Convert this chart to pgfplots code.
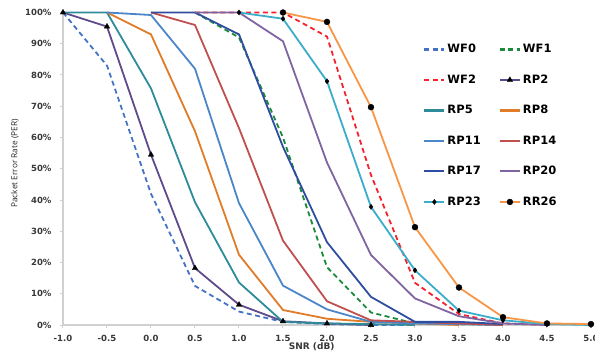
\documentclass[border=0pt]{standalone}
\usepackage{pgfplots}
\pgfplotsset{compat=1.18}
\usepackage{fontspec}
\setmainfont{DejaVu Sans}
\newfontfamily\ylabfont{Open Sans}
\definecolor{cWFa}{HTML}{4472C4}
\definecolor{cWFb}{HTML}{1B8A3A}
\definecolor{cWFc}{HTML}{F5222D}
\definecolor{cRPa}{HTML}{5F4B8B}
\definecolor{cRPb}{HTML}{2E8B9A}
\definecolor{cRPc}{HTML}{E07B28}
\definecolor{cRPd}{HTML}{4A86C8}
\definecolor{cRPe}{HTML}{C0504D}
\definecolor{cRPf}{HTML}{2F4DA0}
\definecolor{cRPg}{HTML}{8064A2}
\definecolor{cRPh}{HTML}{3AADCB}
\definecolor{cRRi}{HTML}{F79646}
\definecolor{axgray}{HTML}{D0D0D0}
\begin{document}
\begin{tikzpicture}
\begin{axis}[
  scale only axis,
  width=528pt, height=312.5pt,
  xmin=-1, xmax=5, ymin=0, ymax=100,
  axis x line=bottom, axis y line=left,
  axis line style={draw=axgray, line width=1.3pt, -},
  xtick={-1,-0.5,0,0.5,1,1.5,2,2.5,3,3.5,4,4.5,5},
  xticklabels={-1.0,-0.5,0.0,0.5,1.0,1.5,2.0,2.5,3.0,3.5,4.0,4.5,5.0},
  ytick={0,10,20,30,40,50,60,70,80,90,100},
  yticklabels={0\%,10\%,20\%,30\%,40\%,50\%,60\%,70\%,80\%,90\%,100\%},
  tick align=outside,
  major tick length=3pt,
  tick style={draw=axgray, line width=1pt},
  ticklabel style={font=\bfseries\fontsize{8.5}{10}\selectfont, text=black!78},
  yticklabel style={xshift=-5pt},
  xticklabel style={yshift=-4pt},
  xlabel={SNR (dB)},
  xlabel style={font=\bfseries\fontsize{9}{10}\selectfont, text=black!78, at={(axis description cs:0.471,0)}, anchor=north, yshift=-14pt},
  ylabel={Packet Error Rate (PER)},
  ylabel style={font=\ylabfont\fontsize{8.3}{10}\selectfont, text=black!85, at={(axis description cs:-0.091,0.517)}, anchor=center},
  clip=false,
  legend columns=2,
  legend cell align=left,
  legend style={draw=none, fill=none, at={(axis description cs:0.682,0.905)}, anchor=north west,
    font=\bfseries\fontsize{11.5}{13}\selectfont,
    /tikz/every even column/.append style={column sep=16pt},
    row sep=16.5pt, inner sep=0pt},
  legend image code/.code={\draw[mark repeat=2, mark phase=2, line width=2.2pt, #1, line width=2.2pt] plot coordinates {(0pt,0pt) (10pt,0pt) (20pt,0pt)};},
  every axis plot/.append style={line width=1.8pt, line join=round},
]
\addplot[color=cWFa, dash pattern=on 5pt off 3.5pt, mark=none] coordinates {(-1,100)(-0.5,83)(0,42)(0.5,12.5)(1,4.3)(1.5,1)(2,0.3)(2.5,0)(3,0)};
\addlegendentry{WF0}
\addplot[color=cWFb, dash pattern=on 5pt off 3.5pt, mark=none] coordinates {(0.5,100)(1,92)(1.5,60)(2,18.5)(2.5,4)(3,0.5)(3.5,0.3)(4,0)};
\addlegendentry{WF1}
\addplot[color=cWFc, dash pattern=on 5pt off 3.5pt, mark=none] coordinates {(0.5,100)(1,100)(1.5,100)(2,92.3)(2.5,48)(3,13.5)(3.5,3.5)(4,0.5)(4.5,0)};
\addlegendentry{WF2}
\addplot[color=cRPa, mark=triangle*, mark size=3.2pt, mark options={fill=black, draw=black, solid, line width=0.3pt}] coordinates {(-1,100)(-0.5,95.5)(0,54.5)(0.5,18.2)(1,6.5)(1.5,1.2)(2,0.5)(2.5,0)};
\addlegendentry{RP2}
\addplot[color=cRPb, mark=none] coordinates {(-1,100)(-0.5,100)(0,75.7)(0.5,39.3)(1,13.6)(1.5,1)(2,0.5)(2.5,0.3)(3,0)};
\addlegendentry{RP5}
\addplot[color=cRPc, mark=none] coordinates {(-0.5,100)(0,93)(0.5,62)(1,22.5)(1.5,4.8)(2,2)(2.5,1)(3,0.5)(3.5,0)};
\addlegendentry{RP8}
\addplot[color=cRPd, mark=none] coordinates {(-0.5,100)(0,99.2)(0.5,82)(1,39)(1.5,12.6)(2,5)(2.5,1)(3,0.5)(3.5,0.3)(4,0)};
\addlegendentry{RP11}
\addplot[color=cRPe, mark=none] coordinates {(0,100)(0.5,96)(1,63)(1.5,27)(2,7.6)(2.5,1.5)(3,1)(3.5,0.5)(4,0)};
\addlegendentry{RP14}
\addplot[color=cRPf, mark=none] coordinates {(0,100)(0.5,100)(1,93)(1.5,57)(2,26.5)(2.5,9)(3,1)(3.5,1)(4,0.3)};
\addlegendentry{RP17}
\addplot[color=cRPg, mark=none] coordinates {(0.5,100)(1,100)(1.5,90.8)(2,52)(2.5,22.4)(3,8.5)(3.5,2.8)(4,0.5)(4.5,0)};
\addlegendentry{RP20}
\addplot[color=cRPh, mark=diamond*, mark size=2.6pt, mark options={fill=black, draw=black, solid, line width=0.3pt}] coordinates {(1,100)(1.5,98)(2,78)(2.5,37.8)(3,17.5)(3.5,4.6)(4,1.5)(4.5,0.3)(5,0)};
\addlegendentry{RP23}
\addplot[color=cRRi, mark=*, mark size=3pt, mark options={fill=black, draw=black, solid, line width=0.3pt}] coordinates {(1.5,100)(2,97)(2.5,69.7)(3,31.3)(3.5,12)(4,2.5)(4.5,0.5)(5,0.3)};
\addlegendentry{RR26}
\end{axis}
\pgfresetboundingbox
\path[use as bounding box] (-63pt,-29pt) rectangle (532pt,325pt);
\end{tikzpicture}
\end{document}
